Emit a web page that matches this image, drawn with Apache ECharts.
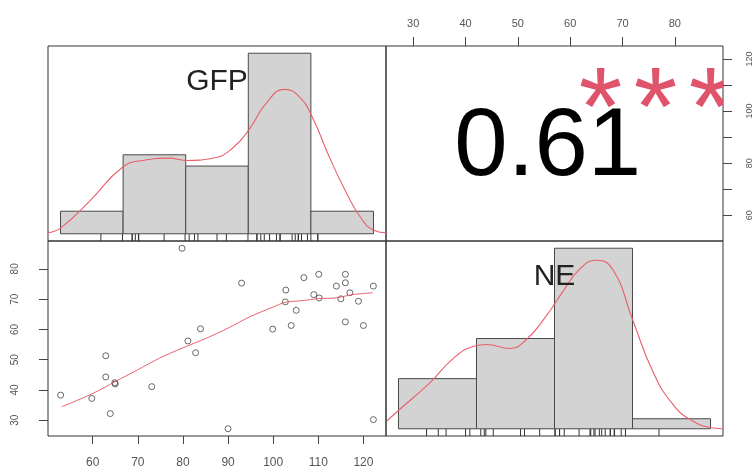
<!DOCTYPE html>
<html>
<head>
<meta charset="utf-8">
<script src="https://cdn.jsdelivr.net/npm/echarts@6/dist/echarts.min.js"></script>
<style>
html, body { margin: 0; padding: 0; background: #fff; }
#chart { width: 756px; height: 469px; }
</style>
</head>
<body>
<div id="chart"></div>
<script>
var gfp = [52.9, 59.8, 62.9, 62.9, 63.9, 64.9, 65.0, 73.1, 79.8, 81.1, 82.8, 83.9, 90.0,
           93.0, 99.9, 102.8, 102.7, 104.0, 105.1, 106.8, 110.1, 109.0, 110.2, 114.0,
           116.0, 116.0, 115.0, 117.0, 118.9, 116.0, 120.0, 122.2, 122.2];
var ne  = [38.3, 37.2, 51.3, 44.3, 32.2, 42.4, 42.0, 41.1, 86.8, 56.2, 52.3, 60.2, 27.2,
           75.3, 60.1, 73.0, 69.1, 61.3, 66.3, 77.1, 78.2, 71.5, 70.4, 74.3,
           78.2, 75.4, 70.1, 72.1, 69.3, 62.5, 61.3, 74.3, 30.2];

// histograms on the diagonal
var gfpBreaks = [40, 60, 80, 100, 120, 140];
var gfpCounts = [2, 7, 6, 16, 2];
var neBreaks = [20, 40, 60, 80, 100];
var neCounts = [5, 9, 18, 1];

// density curves (scaled to the count axis)
var gfpDensX = [35.8, 40, 49.3, 59.8, 66.2, 74.8, 80, 88.6, 95, 100.4, 105.8, 111.6, 116.4, 120.5, 125.9, 131.4, 136.5, 140.3, 144];
var gfpDensY = [0.1, 0.5, 2.9, 5.9, 6.5, 6.7, 6.5, 6.7, 7.6, 9.3, 11.6, 12.8, 12.1, 10.3, 6.8, 3.6, 1.2, 0.3, 0.1];
var neDensX = [17.1, 19.9, 28.1, 34, 39.1, 42.6, 48.5, 52.8, 57.8, 62, 66.4, 70.7, 74.9, 80, 85.1, 90.2, 95.3, 100.4, 103.2];
var neDensY = [0.8, 1.8, 4.6, 7.0, 8.2, 8.4, 8.0, 8.9, 11.2, 13.6, 15.9, 16.8, 15.9, 10.9, 5.8, 2.5, 0.8, 0.1, 0];

// smoother through the scatter
var fitX = [53.1, 60.1, 64.9, 69.9, 74.8, 79.8, 85.2, 90.1, 94.7, 100, 102.8, 106.5, 110.1, 113.9, 117.6, 122];
var fitY = [34.4, 38.9, 42.7, 46.6, 50.5, 53.8, 57.1, 60.5, 64.1, 67.4, 69, 69.5, 70.2, 70.4, 71.5, 72.1];

var corrText = '0.61';
var corrStars = '***';
var names = ['GFP', 'NE'];

// axis ticks / labels
var bottomTicks = [60, 70, 80, 90, 100, 110, 120];
var leftTicks = [30, 40, 50, 60, 70, 80];
var topTicks = [30, 40, 50, 60, 70, 80];
var rightTicks = [60, 70, 80, 90, 100, 110, 120];
var rightLabels = [60, 80, 100, 120];

// panel layout
var L = 48, M = 386, R = 723, T = 46, MID = 241, B = 436;
var FONT = "'Liberation Sans', Arial, sans-serif";

function zip(a, b) { return a.map(function (v, i) { return [v, b[i]]; }); }
function bins(br, c) { return c.map(function (v, i) { return [br[i], br[i + 1], v]; }); }

var chart = echarts.init(document.getElementById('chart'));

function histSeries(idx, br, c) {
    return {
        type: 'custom', xAxisIndex: idx, yAxisIndex: idx, z: 2,
        data: bins(br, c),
        renderItem: function (params, api) {
            var p0 = api.coord([api.value(0), api.value(2)]);
            var p1 = api.coord([api.value(1), 0]);
            return {
                type: 'rect',
                shape: { x: p0[0], y: p0[1], width: p1[0] - p0[0], height: p1[1] - p0[1] },
                style: { fill: '#d3d3d3', stroke: '#4a4a4a', lineWidth: 1 }
            };
        }
    };
}
function rugSeries(idx, vals) {
    return {
        type: 'custom', xAxisIndex: idx, yAxisIndex: idx, z: 3,
        data: vals.map(function (v) { return [v, 0]; }),
        renderItem: function (params, api) {
            var x = api.coord([api.value(0), 0])[0];
            var bot = params.coordSys.y + params.coordSys.height;
            return { type: 'line', shape: { x1: x, y1: bot, x2: x, y2: bot - 7 },
                     style: { stroke: '#333', lineWidth: 1 } };
        }
    };
}
function densSeries(idx, xs, ys) {
    return {
        type: 'line', xAxisIndex: idx, yAxisIndex: idx, z: 4,
        data: zip(xs, ys), showSymbol: false, smooth: true, clip: true,
        lineStyle: { color: '#e8606a', width: 1.1 }
    };
}
function nameSeries(idx, text, z) {
    return {
        type: 'custom', xAxisIndex: idx, yAxisIndex: idx, z: z, clip: true,
        data: [[0, 0]],
        renderItem: function (params) {
            var cs = params.coordSys;
            return { type: 'text', x: cs.x + cs.width * 0.5, y: cs.y + cs.height * 0.185,
                     style: { text: text, fontSize: 30, fontFamily: FONT, fill: '#222',
                              align: 'center', verticalAlign: 'middle' } };
        }
    };
}

var hidden = { show: false };
var tickLab = function (vals, size, margin, rot) {
    return { customValues: vals, fontSize: size, margin: margin, color: '#555', fontFamily: FONT, rotate: rot || 0 };
};
var tickLine = function (vals, len) {
    return { show: true, customValues: vals, length: len, lineStyle: { color: '#444', width: 1 } };
};

var gridBase = { show: true, borderColor: '#333', borderWidth: 1, backgroundColor: 'transparent',
                 containLabel: false, outerBoundsMode: 'none' };

var option = {
    animation: false,
    grid: [
        Object.assign({ left: L, top: T, width: M - L, height: MID - T }, gridBase),
        Object.assign({ left: M, top: T, width: R - M, height: MID - T }, gridBase),
        Object.assign({ left: L, top: MID, width: M - L, height: B - MID }, gridBase),
        Object.assign({ left: M, top: MID, width: R - M, height: B - MID }, gridBase)
    ],
    xAxis: [
        { gridIndex: 0, type: 'value', min: 36, max: 144, show: false },
        { gridIndex: 1, type: 'value', min: 24.8, max: 89.2, position: 'top',
          axisLine: hidden, splitLine: hidden, axisTick: tickLine(topTicks, 9),
          axisLabel: tickLab(topTicks, 11, 17) },
        { gridIndex: 2, type: 'value', min: 50.1, max: 125, position: 'bottom',
          axisLine: hidden, splitLine: hidden, axisTick: tickLine(bottomTicks, 8),
          axisLabel: tickLab(bottomTicks, 12, 21) },
        { gridIndex: 3, type: 'value', min: 16.8, max: 103.2, show: false }
    ],
    yAxis: [
        { gridIndex: 0, type: 'value', min: -0.64, max: 16.64, show: false },
        { gridIndex: 1, type: 'value', min: 50.1, max: 125, position: 'right',
          axisLine: hidden, splitLine: hidden, axisTick: tickLine(rightTicks, 9),
          axisLabel: tickLab(rightLabels, 9, 22, 90) },
        { gridIndex: 2, type: 'value', min: 24.8, max: 89.2, position: 'left',
          axisLine: hidden, splitLine: hidden, axisTick: tickLine(leftTicks, 9),
          axisLabel: tickLab(leftTicks, 10, 28, 90) },
        { gridIndex: 3, type: 'value', min: -0.72, max: 18.72, show: false }
    ],
    series: [
        nameSeries(0, names[0], 1),
        histSeries(0, gfpBreaks, gfpCounts),
        rugSeries(0, gfp),
        densSeries(0, gfpDensX, gfpDensY),

        histSeries(3, neBreaks, neCounts),
        rugSeries(3, ne),
        densSeries(3, neDensX, neDensY),
        nameSeries(3, names[1], 10),

        {
            type: 'scatter', xAxisIndex: 2, yAxisIndex: 2, z: 3,
            data: zip(gfp, ne), symbol: 'circle', symbolSize: 6,
            itemStyle: { color: 'rgba(0,0,0,0)', borderColor: '#444', borderWidth: 1 }
        },
        {
            type: 'line', xAxisIndex: 2, yAxisIndex: 2, z: 4,
            data: zip(fitX, fitY), showSymbol: false, smooth: 0.3,
            lineStyle: { color: '#e8606a', width: 1 }
        },

        {
            type: 'custom', xAxisIndex: 1, yAxisIndex: 1, clip: true, z: 5,
            data: [[(24.8 + 89.2) / 2, (50.1 + 125) / 2]],
            renderItem: function (params) {
                var cs = params.coordSys;
                var kids = [
                    { type: 'text', x: cs.x + cs.width * 0.48, y: cs.y + cs.height * 0.525,
                      style: { text: corrText, fontSize: 96, fontFamily: FONT, fill: '#000',
                               align: 'center', verticalAlign: 'middle' } }
                ];
                // significance stars, one glyph each, centred on 0.8 / 0.8 of the panel
                var stars = corrStars.split('');
                var step = 55;
                stars.forEach(function (s, i) {
                    kids.push({ type: 'text',
                        x: cs.x + cs.width * 0.8 + (i - (stars.length - 1) / 2) * step,
                        y: cs.y + cs.height * 0.35,
                        style: { text: s, fontSize: 112, fontFamily: FONT, fill: '#DF536B',
                                 align: 'center', verticalAlign: 'middle' } });
                });
                return { type: 'group', children: kids };
            }
        }
    ]
};
chart.setOption(option);
</script>
</body>
</html>
